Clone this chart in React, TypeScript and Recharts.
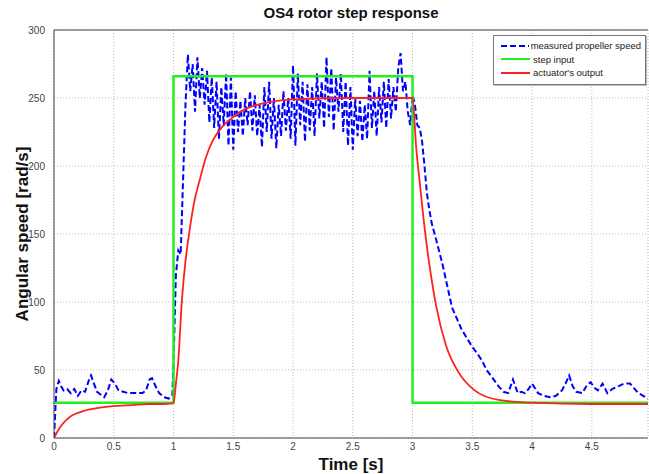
import { CartesianGrid, Legend, Line, LineChart, ReferenceLine, XAxis, YAxis } from "recharts";

// Sample times [s] and measured propeller speed [rad/s]
const measuredTime = [
  0, 0.02, 0.04, 0.06, 0.08, 0.11, 0.14, 0.17, 0.2, 0.23, 0.26, 0.29, 0.31, 0.33, 0.36, 0.39,
  0.42, 0.45, 0.48, 0.51, 0.54, 0.58, 0.62, 0.66, 0.7, 0.74, 0.77, 0.8, 0.82, 0.85, 0.88, 0.92,
  0.96, 0.99, 1.0, 1.02, 1.04, 1.06, 1.08, 1.1, 1.12, 1.14, 1.16, 1.18, 1.2, 1.22, 1.24, 1.26,
  1.28, 1.3, 1.32, 1.34, 1.36, 1.38, 1.4, 1.42, 1.44, 1.46, 1.48, 1.5, 1.52, 1.54, 1.56, 1.58,
  1.6, 1.62, 1.64, 1.66, 1.68, 1.7, 1.72, 1.74, 1.76, 1.78, 1.8, 1.82, 1.84, 1.86, 1.88, 1.9,
  1.92, 1.94, 1.96, 1.98, 2.0, 2.02, 2.04, 2.06, 2.08, 2.1, 2.12, 2.14, 2.16, 2.18, 2.2, 2.22,
  2.24, 2.26, 2.28, 2.3, 2.32, 2.34, 2.36, 2.38, 2.4, 2.42, 2.44, 2.46, 2.48, 2.5, 2.52, 2.54,
  2.56, 2.58, 2.6, 2.62, 2.64, 2.66, 2.68, 2.7, 2.72, 2.74, 2.76, 2.78, 2.8, 2.82, 2.84, 2.86,
  2.88, 2.9, 2.92, 2.94, 2.96, 2.98, 3.0, 3.02, 3.04, 3.06, 3.08, 3.1, 3.12, 3.14, 3.16, 3.2,
  3.25, 3.29, 3.33, 3.37, 3.41, 3.45, 3.5, 3.55, 3.58, 3.62, 3.67, 3.72, 3.76, 3.8, 3.84, 3.88,
  3.91, 3.94, 3.97, 4.0, 4.05, 4.1, 4.15, 4.2, 4.25, 4.28, 4.31, 4.34, 4.37, 4.42, 4.46, 4.49,
  4.52, 4.55, 4.59, 4.63, 4.67, 4.72, 4.77, 4.82, 4.86, 4.89, 4.93, 4.97,
];
const measuredSpeed = [
  0, 36, 42, 38, 35, 36, 33, 36, 31, 35, 34, 42, 46, 41, 34, 32,
  30, 35, 43, 40, 35, 34, 33, 33, 33, 33, 35, 43, 44, 38, 33, 30,
  29, 31, 55, 120, 138, 135, 190, 245, 282, 255, 275, 240, 280, 250, 272, 245,
  270, 232, 265, 228, 262, 220, 258, 230, 268, 215, 265, 212, 255, 225, 248, 222,
  250, 230, 255, 226, 252, 222, 245, 214, 258, 225, 262, 220, 250, 213, 245, 222,
  255, 226, 250, 220, 274, 215, 268, 230, 262, 218, 260, 226, 258, 222, 268, 235,
  262, 228, 280, 236, 272, 226, 265, 240, 268, 225, 262, 215, 258, 212, 250, 222,
  248, 218, 245, 220, 270, 228, 255, 222, 258, 232, 262, 228, 264, 235, 258, 240,
  272, 283, 255, 262, 240, 230, 252, 245, 230, 228, 218, 200, 180, 168, 158, 145,
  128, 112, 96, 88, 80, 74, 67, 61, 57, 50, 44, 38, 34, 33, 43, 33,
  34, 33, 36, 40, 33, 31, 30, 31, 35, 40, 46, 38, 34, 33, 39, 41,
  37, 35, 40, 33, 36, 38, 40, 40, 36, 33, 31, 29,
];

// Step input reference
const stepTime = [0, 1, 3, 4.97];
const stepSpeed = [26, 266, 26, 26];

// Actuator model output
const actuatorTime = [
  0, 0.03, 0.06, 0.1, 0.15, 0.2, 0.25, 0.3, 0.4, 0.5, 0.6, 0.7, 0.8, 0.9, 1.0,
  1.02, 1.04, 1.07, 1.1, 1.13, 1.17, 1.22, 1.27, 1.33, 1.4, 1.5, 1.6, 1.7, 1.8, 2.0, 2.5, 3.0,
  3.03, 3.06, 3.1, 3.14, 3.2, 3.28, 3.38, 3.52, 3.72, 4.0, 4.5, 4.97,
];
const actuatorSpeed = [
  0, 5, 9, 13, 16.5, 18.5, 20, 21, 22.5, 23.5, 24, 24.5, 25, 25, 25.5,
  40, 57, 101, 130, 150, 172, 190, 206, 219, 228, 236, 242, 245, 247, 249, 250, 250,
  214, 188, 155, 128, 96, 68, 49, 35, 28, 26, 25, 25,
];

const xTicks = [0, 0.5, 1, 1.5, 2, 2.5, 3, 3.5, 4, 4.5];
const yTicks = [0, 50, 100, 150, 200, 250, 300];

const legendItems = [
  { name: "measured propeller speed", color: "#0000ff", dash: "6 3" },
  { name: "step input", color: "#22ee22", dash: "" },
  { name: "actuator's output", color: "#ff2020", dash: "" },
];

const toPoints = (ts: number[], vs: number[]) => ts.map((t, i) => ({ t, v: vs[i] }));

const FONT = "'Liberation Sans', Arial, Helvetica, sans-serif";

function LegendBox() {
  return (
    <div
      style={{
        border: "1px solid #777",
        background: "#fff",
        padding: "3px 4px 4px 6px",
        boxSizing: "border-box",
        width: 153,
        fontFamily: FONT,
        fontSize: 9.5,
        color: "#222",
        boxShadow: "1px 1px 0 #bbb",
      }}
    >
      {legendItems.map((item) => (
        <div key={item.name} style={{ display: "flex", alignItems: "center", height: 13.5 }}>
          <svg width={31} height={6}>
            <line x1={1} y1={3} x2={30} y2={3} stroke={item.color} strokeWidth={2} strokeDasharray={item.dash} />
          </svg>
          <span style={{ marginLeft: 2, whiteSpace: "nowrap" }}>{item.name}</span>
        </div>
      ))}
    </div>
  );
}

export default function App() {
  return (
    <div style={{ position: "absolute", left: 0, top: 0, width: 649, height: 474, background: "#fff", overflow: "hidden" }}>
      <div
        style={{
          position: "absolute",
          left: 54,
          width: 594,
          top: 4,
          textAlign: "center",
          fontFamily: FONT,
          fontWeight: "bold",
          fontSize: 15,
          color: "#111",
        }}
      >
        OS4 rotor step response
      </div>
      <LineChart width={649} height={474} margin={{ top: 30, right: 1, bottom: 0, left: 0 }}>
        <CartesianGrid stroke="#b8b8b8" strokeDasharray="1 2" />
        <XAxis
          type="number"
          dataKey="t"
          domain={[0, 4.97]}
          ticks={xTicks}
          allowDataOverflow
          height={36}
          tickLine={false}
          tickSize={0}
          tickMargin={5}
          stroke="#444"
          tick={{ fontSize: 10, fill: "#444", fontFamily: FONT }}
          label={{ value: "Time [s]", position: "insideBottom", offset: 4, fontSize: 17, fontWeight: "bold", fill: "#111", fontFamily: FONT }}
        />
        <XAxis xAxisId="top" orientation="top" type="number" domain={[0, 4.97]} ticks={xTicks} height={0} mirror tick={false} tickSize={4} stroke="#444" />
        <YAxis
          type="number"
          domain={[0, 300]}
          ticks={yTicks}
          width={54}
          tickLine={false}
          tickSize={0}
          tickMargin={9}
          stroke="#444"
          tick={{ fontSize: 10, fill: "#444", fontFamily: FONT }}
          label={{ value: "Angular speed [rad/s]", angle: -90, position: "center", dx: -5, fontSize: 17, fontWeight: "bold", fill: "#111", fontFamily: FONT }}
        />
        <ReferenceLine y={300} stroke="#444" />
        <Line
          data={toPoints(measuredTime, measuredSpeed)}
          dataKey="v"
          name="measured propeller speed"
          type="linear"
          stroke="#0000ff"
          strokeWidth={2}
          strokeDasharray="6 3"
          dot={false}
          isAnimationActive={false}
        />
        <Line
          data={toPoints(stepTime, stepSpeed)}
          dataKey="v"
          name="step input"
          type="stepAfter"
          stroke="#22ee22"
          strokeWidth={2.5}
          dot={false}
          isAnimationActive={false}
        />
        <Line
          data={toPoints(actuatorTime, actuatorSpeed)}
          dataKey="v"
          name="actuator's output"
          type="monotone"
          stroke="#ff2020"
          strokeWidth={1.8}
          dot={false}
          isAnimationActive={false}
        />
        <Legend
          layout="vertical"
          align="center"
          verticalAlign="middle"
          content={() => <LegendBox />}
          wrapperStyle={{ left: 493, top: 35, width: 153 }}
        />
      </LineChart>
    </div>
  );
}
